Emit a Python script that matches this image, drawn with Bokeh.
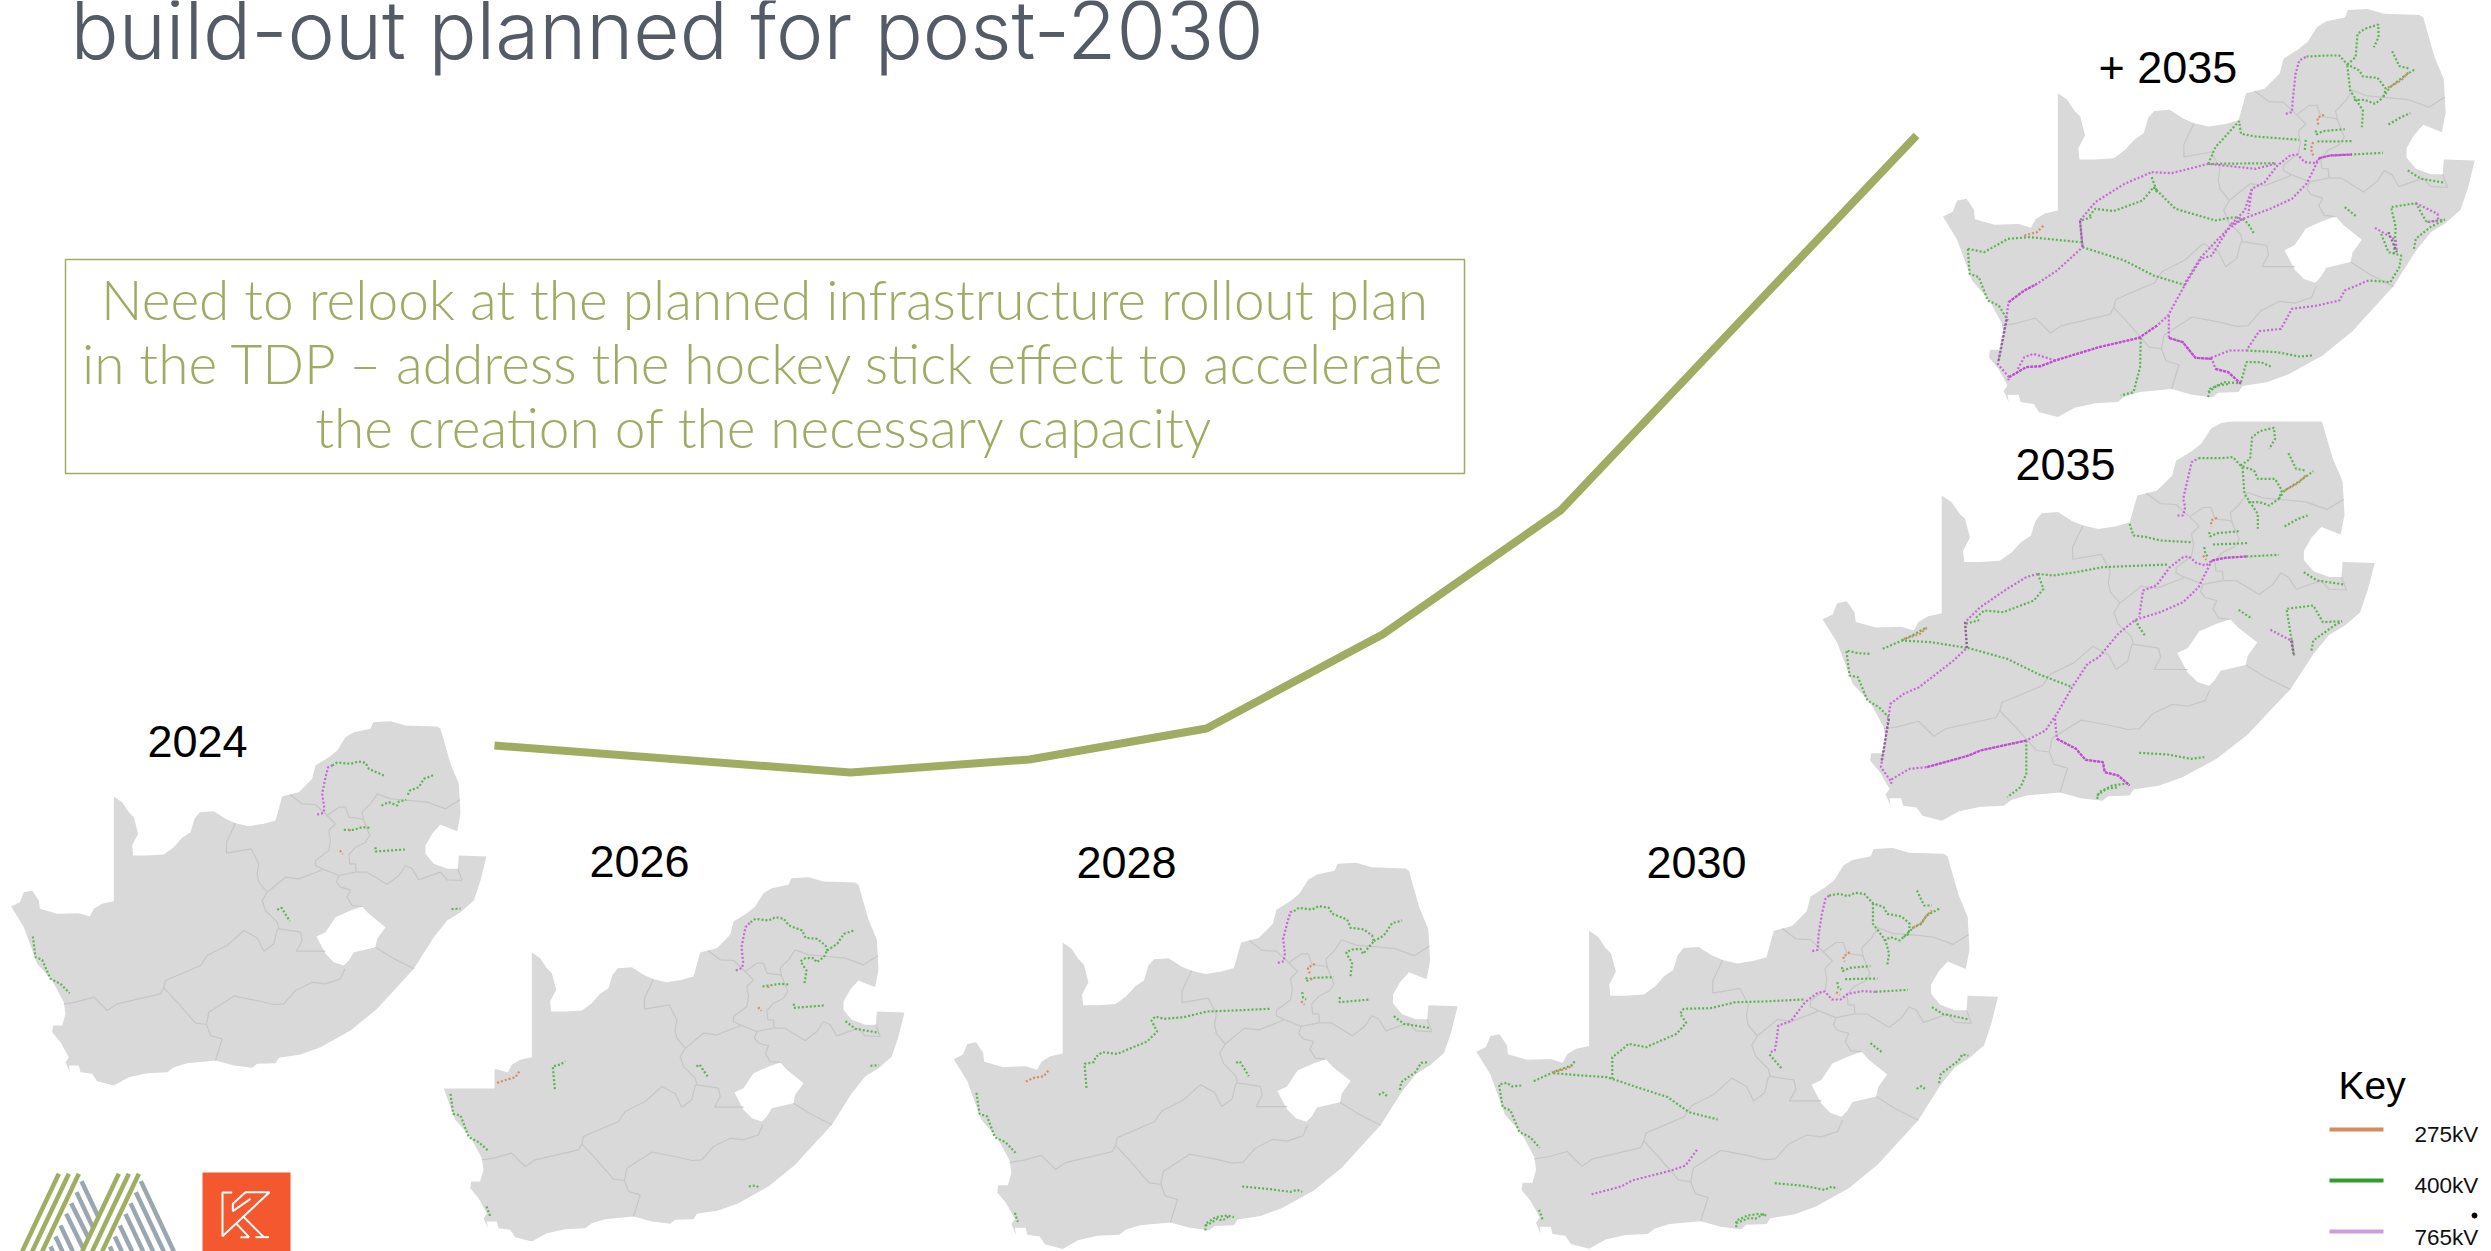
from bokeh.plotting import figure
from bokeh.models import Range1d
from bokeh.core.properties import value
from bokeh.embed import file_html
from bokeh.resources import INLINE

# South Africa outline and Lesotho enclave, in shared map units
country_outline = [(340,288),(365,305),(385,335),(400,350),(413,400),(395,435),(398,465),(440,465),(490,462),(520,440),(545,412),(570,395),(582,355),(598,335),(640,332),(675,355),(705,368),(745,377),(790,370),(825,360),(845,288),(895,275),(935,235),(945,195),(985,170),(1010,150),(1035,110),(1060,95),(1110,85),(1118,65),(1170,62),(1215,75),(1310,78),(1320,85),(1350,190),(1375,250),(1380,340),(1370,392),(1340,380),(1320,372),(1295,400),(1275,435),(1275,460),(1300,490),(1340,505),(1372,505),(1375,465),(1458,468),(1440,540),(1420,600),(1380,635),(1340,660),(1300,710),(1240,805),(1180,870),(1130,925),(1050,990),(960,1040),(900,1062),(835,1072),(825,1088),(770,1090),(755,1102),(700,1095),(645,1080),(560,1088),(520,1100),(500,1115),(440,1118),(385,1130),(340,1155),(290,1142),(275,1120),(240,1115),(235,1095),(205,1095),(208,1115),(195,1085),(205,1070),(180,1025),(155,995),(158,975),(185,975),(195,940),(190,905),(155,840),(110,790),(70,680),(32,618),(58,605),(70,575),(95,570),(115,600),(118,625),(170,640),(235,638),(268,648),(280,625),(305,610),(340,602)]
lesotho_outline = [(948,708),(975,695),(1005,650),(1050,630),(1085,618),(1105,640),(1155,680),(1130,715),(1125,740),(1060,755),(1045,780),(1030,795),(1000,785),(975,760)]

# Province and district boundaries
province_borders = [
    [(190,910),(225,905),(280,890),(320,930),(350,910),(480,880),(490,862)],
    [(490,862),(530,905),(585,968),(618,972),(630,1005),(665,1015),(645,1080)],
    [(490,862),(495,840),(600,795),(620,765),(660,745),(680,735),(730,690),(770,712),(790,752),(820,730),(830,688),(835,685),(900,695),(905,720),(888,752),(975,752)],
    [(618,972),(625,935),(700,887),(770,900),(820,912),(850,910),(885,870),(935,845),(975,850),(1020,835),(1033,805)],
    [(1125,740),(1175,772),(1240,805)],
    [(705,368),(678,425),(678,458),(752,445),(775,490),(770,520),(775,545),(800,575),(785,600),(795,630),(830,665),(835,685)],
    [(800,575),(855,530),(895,535),(960,510),(965,505),(1015,525),(1065,515)],
    [(1015,525),(1008,545),(1020,560),(1050,568),(1040,590),(1055,615),(1085,618)],
    [(868,282),(905,310),(945,312),(980,345)],
    [(980,345),(1005,370),(985,390),(990,420),(985,450),(945,480),(945,495),(965,505)],
    [(980,345),(1015,320),(1035,320),(1045,350),(1085,355),(1090,360),(1108,405),(1095,425),(1065,440),(1045,462),(1048,490),(1065,490),(1067,515)],
    [(1090,360),(1085,335),(1110,310),(1130,280),(1170,295),(1230,300),(1280,305),(1335,325),(1378,298)],
    [(1067,515),(1100,515),(1160,552),(1195,525),(1215,495),(1235,505),(1255,538),(1320,515),(1340,538),(1385,540),(1372,505)],
]

# Transmission corridors per snapshot year, by voltage, in each panel's own trace units
lines_2024 = {
    "400": [[(995,195),(1010,186),(1050,190),(1075,183),(1095,187),(1105,205),(1150,225)],
            [(1222,283),(1228,270),(1255,260),(1270,235),(1303,222)],
            [(1143,315),(1165,305),(1190,315),(1195,303),(1217,298)],
            [(1030,388),(1060,388),(1085,380),(1110,382)],
            [(1125,440),(1125,453),(1213,447)],
            [(830,628),(843,622),(868,662)],
            [(97,708),(105,770),(125,778),(150,835),(180,850),(207,878)],
            [(1353,626),(1380,624)]],
    "275": [[(1045,390),(1052,388)], [(1018,450),(1027,461)]],
    "765": [[(950,342),(968,338),(972,325),(965,280),(975,230),(983,200),(995,195)]],
}
lines_2026 = {
    "400": [[(930,215),(945,205),(985,210),(1005,200),(1030,205),(1045,225),(1085,240),(1095,262),(1130,265),(1155,285),(1160,300)],
            [(1160,300),(1190,280),(1210,250),(1240,240)],
            [(1092,398),(1098,360),(1088,345),(1080,332),(1095,323),(1120,323),(1128,335),(1150,320),(1160,300)],
            [(966,408),(985,405),(1020,400),(1047,402)],
            [(1060,460),(1060,472),(1150,465)],
            [(1215,512),(1245,535),(1315,547)],
            [(768,648),(777,642),(804,682)],
            [(1290,646),(1315,644)],
            [(30,730),(38,790),(60,795),(85,860),(115,875),(142,900)],
            [(925,1008),(945,1005),(957,1012)],
            [(138,1068),(149,1097)],
            [(343,716),(337,648),(360,642),(374,632)]],
    "275": [[(980,410),(990,406)], [(953,470),(963,481)], [(170,697),(200,687),(225,680),(236,663)]],
    "765": [[(886,360),(905,352),(908,335),(903,290),(915,230),(930,215)]],
}
lines_2028 = {
    "400": [[(1030,182),(1045,172),(1085,177),(1105,167),(1135,172),(1145,190),(1190,207),(1200,232),(1240,237),(1265,255),(1270,272)],
            [(1270,272),(1300,255),(1325,218),(1355,210)],
            [(1200,377),(1205,335),(1195,322),(1187,305),(1205,297),(1230,295),(1238,310),(1255,290),(1270,272)],
            [(1068,380),(1068,392),(1085,382),(1150,380)],
            [(1055,425),(1058,442),(1067,447)],
            [(1168,440),(1167,455),(1260,447)],
            [(1330,497),(1360,520),(1435,532)],
            [(957,475),(850,480),(770,483),(700,500),(640,505),(615,498),(603,510),(620,543),(590,573),(500,610),(455,605),(435,620),(430,635),(402,640),(408,712)],
            [(857,637),(868,633),(895,677)],
            [(1348,718),(1352,695),(1395,665),(1412,637),(1435,635)],
            [(1285,733),(1298,726),(1310,737)],
            [(78,727),(87,790),(110,798),(133,860),(165,875),(195,907)],
            [(875,1008),(950,1015),(1020,1024),(1040,1018),(1055,1024)],
            [(193,1087),(202,1114)],
            [(765,1140),(765,1120),(795,1100),(830,1095),(850,1100)],
            [(765,1125),(780,1118),(800,1105),(815,1110),(835,1098)]],
    "275": [[(1093,340),(1072,352),(1078,370)], [(1080,385),(1090,390)], [(1052,452),(1062,463)], [(226,693),(250,682),(280,677),(296,657)]],
    "765": [[(982,337),(1000,332),(1003,310),(998,265),(1012,210),(1020,185),(1030,182)]],
}
lines_2030 = {
    "400": [[(1032,195),(1060,190),(1085,197),(1105,187),(1130,190),(1155,218),(1185,230),(1195,250),(1235,258),(1258,280),(1255,310),(1240,320)],
            [(1155,218),(1155,280),(1190,330),(1200,370),(1195,403)],
            [(1185,330),(1205,320),(1230,330),(1240,320),(1265,295)],
            [(1265,293),(1290,280),(1305,255),(1345,232)],
            [(1278,180),(1298,225),(1320,225)],
            [(1068,410),(1070,422),(1090,412),(1148,407)],
            [(1077,446),(1168,444)],
            [(1055,455),(1058,472),(1066,477)],
            [(1162,484),(1253,478)],
            [(960,507),(850,513),(770,515),(700,533),(625,535),(615,550),(632,577),(605,610),(520,650),(470,640),(455,655),(425,680),(425,745)],
            [(865,672),(880,690),(900,715)],
            [(205,752),(260,725),(310,705),(322,690)],
            [(260,728),(340,735),(410,740),(500,772),(580,800),(640,845),(720,867)],
            [(170,765),(145,768),(130,757),(108,762),(118,830),(140,840),(165,905),(195,920),(222,952)],
            [(1320,530),(1350,550),(1420,566)],
            [(1148,638),(1180,665)],
            [(1340,758),(1345,730),(1395,690),(1405,672),(1422,675)],
            [(1277,775),(1290,767),(1300,775)],
            [(880,1058),(960,1066),(1020,1078),(1040,1068),(1055,1075)],
            [(220,1138),(230,1168)],
            [(772,1190),(772,1170),(805,1155),(835,1150),(858,1155)],
            [(772,1178),(790,1170),(810,1162),(825,1165),(850,1150)]],
    "275": [[(1268,290),(1290,278),(1305,255),(1320,240)], [(1090,365),(1072,378),(1075,393)], [(1052,485),(1062,493)], [(260,725),(295,715),(315,705)]],
    "765": [[(985,362),(1000,358),(1003,310),(1012,250),(1022,205),(1032,195)],
            [(1162,484),(1125,482),(1085,490),(1065,507),(1040,507),(1020,483),(1000,487),(965,515),(925,572),(890,585),(885,630),(880,660),(868,665)],
            [(662,958),(630,1005),(590,1020),(480,1050),(450,1068),(365,1092)]],
}
lines_2035 = {
    "400": [[(1040,143),(1100,143),(1130,140),(1150,165),(1185,180),(1195,205),(1240,205),(1258,240),(1250,265)],
            [(1150,165),(1175,145),(1180,80),(1200,62),(1237,52),(1240,85),(1225,115)],
            [(1155,170),(1160,250),(1195,310),(1195,355)],
            [(1170,275),(1200,275),(1225,285),(1250,265)],
            [(1250,265),(1265,240),(1300,215),(1340,182)],
            [(1275,128),(1295,175),(1320,180)],
            [(1265,348),(1300,325),(1325,315)],
            [(1068,365),(1070,378),(1090,368),(1145,362)],
            [(1078,402),(1168,398)],
            [(1055,410),(1058,430),(1065,440)],
            [(1165,438),(1250,433)],
            [(620,490),(660,495),(720,485),(790,470),(960,462)],
            [(620,490),(635,535),(610,570),(530,605),(480,600),(460,620),(465,630),(430,640)],
            [(437,712),(540,745),(620,790),(710,830)],
            [(215,715),(265,690),(340,695),(435,712)],
            [(265,690),(300,670),(330,650)],
            [(180,730),(150,728),(120,720),(128,795),(150,800),(175,870),(205,890),(230,920)],
            [(860,340),(870,375),(905,380),(940,390),(1020,395)],
            [(875,628),(885,650),(900,675)],
            [(1315,485),(1350,510),(1420,522)],
            [(1145,598),(1180,625)],
            [(1290,735),(1285,700),(1270,595),(1340,585),(1365,635),(1415,632)],
            [(1335,720),(1340,690),(1395,645),(1415,632)],
            [(590,990),(590,1090),(575,1130),(540,1160)],
            [(885,1027),(960,1032),(1020,1045),(1055,1040)],
            [(775,1165),(780,1145),(815,1125),(858,1118)],
            [(775,1155),(800,1135),(830,1130)]],
    "275": [[(1265,240),(1300,218),(1320,195)], [(1088,322),(1073,330),(1073,348)], [(1052,435),(1060,448)], [(270,685),(310,672),(330,652)]],
    "765": [[(985,315),(1000,315),(1005,290),(1000,265),(1015,190),(1022,155),(1040,143)],
            [(1165,438),(1110,442),(1075,450),(1060,465),(1035,458),(1015,438),(1000,440),(965,470),(930,525),(895,540),(885,620)],
            [(1075,450),(1040,530),(1000,575),(940,605),(875,628),(830,670),(780,740),(750,760),(710,830),(670,910),(640,960),(590,990),(470,1020),(440,1035),(330,1070),(285,1075),(240,1105),(235,1125)],
            [(235,1110),(210,1070),(218,1020),(230,920),(235,880),(270,850),(310,830),(355,790),(400,750),(435,712),(430,635),(470,590),(540,535),(590,500),(620,490)],
            [(1228,658),(1285,692),(1288,730)],
            [(665,925),(670,985),(720,1015),(745,1048),(790,1055),(795,1085),(830,1095),(860,1125)]],
    "trunk": [[(590,990),(470,1020),(440,1035),(330,1070)], [(670,985),(720,1015),(745,1048),(790,1055),(795,1085),(830,1095),(860,1125)], [(1075,450),(1110,442),(1165,438)]],
    "overlap": [[(212,1050),(232,920)], [(1282,690),(1288,730)], [(430,635),(435,712)]],
}
lines_2035_plus = {
    "400": [[(1060,168),(1120,165),(1150,165),(1172,192),(1205,210),(1215,228),(1255,232),(1278,265),(1270,292)],
            [(1172,192),(1195,170),(1200,100),(1220,85),(1257,72),(1258,110),(1245,140)],
            [(1172,195),(1180,270),(1215,330),(1212,380)],
            [(1190,298),(1220,298),(1248,310),(1270,292)],
            [(1270,290),(1290,260),(1330,225),(1360,205)],
            [(1295,152),(1315,197),(1345,205)],
            [(1285,372),(1320,350),(1345,338)],
            [(1085,390),(1087,402),(1105,392),(1165,386)],
            [(1090,423),(1185,422)],
            [(1058,418),(1055,450)],
            [(1180,462),(1270,457)],
            [(790,490),(975,488)],
            [(635,530),(650,575),(640,560),(610,600),(530,632),(480,625),(465,645),(470,650),(440,660)],
            [(640,560),(700,625),(810,660),(860,650),(885,655)],
            [(445,740),(560,780),(640,825),(730,855)],
            [(130,745),(175,755),(240,715),(300,710),(440,725)],
            [(130,745),(135,820),(160,830),(185,900),(215,915),(240,960)],
            [(790,490),(810,440),(875,362),(880,400),(920,408),(1040,418)],
            [(885,655),(900,670),(915,698)],
            [(1338,510),(1375,535),(1440,547)],
            [(1165,620),(1197,648)],
            [(1300,760),(1305,680),(1292,620),(1360,608),(1390,665),(1440,657)],
            [(1355,745),(1360,715),(1400,680),(1440,657)],
            [(1265,700),(1285,755),(1320,765),(1315,800),(1290,845),(1230,840)],
            [(605,1012),(603,1100),(585,1175),(550,1185)],
            [(895,1050),(980,1055),(1040,1068),(1075,1065)],
            [(880,1145),(895,1085),(935,1085),(965,1100)],
            [(790,1190),(795,1165),(835,1145),(875,1148)],
            [(790,1175),(815,1155),(850,1150)]],
    "275": [[(1283,262),(1320,240),(1340,215)], [(1108,343),(1090,352),(1092,375)], [(1078,425),(1072,445),(1080,470)], [(285,705),(320,695),(338,675)]],
    "765": [[(1003,340),(1020,335),(1022,300),(1030,220),(1040,180),(1060,168)],
            [(1185,462),(1125,465),(1095,473),(1085,488),(1055,485),(1035,462),(1015,465),(980,495),(945,545),(910,565),(900,640)],
            [(1095,473),(1060,550),(1020,595),(960,625),(885,655),(850,675),(800,765),(770,775),(725,855),(680,945),(650,975),(600,1012),(490,1040),(370,1080),(330,1097),(290,1100),(243,1130),(240,1145)],
            [(885,655),(840,690),(770,770),(725,850)],
            [(910,565),(890,630),(850,675)],
            [(243,1130),(212,1090),(235,960),(242,905),(285,870),(320,850),(375,810),(445,740),(438,660),(480,605),(560,550),(635,515)],
            [(635,515),(690,518),(790,490),(920,505),(980,488)],
            [(370,1080),(310,1060),(285,1070),(265,1110)],
            [(1360,608),(1420,640),(1422,660),(1390,665)],
            [(1248,682),(1305,718),(1308,755)],
            [(1230,840),(1165,870),(1150,900),(1090,915),(1020,925),(990,985),(930,992),(895,1050),(850,1050),(790,1075)],
            [(682,945),(682,1012),(720,1025),(755,1072),(800,1075),(810,1105),(845,1115),(880,1150)]],
    "trunk": [[(650,975),(600,1012),(490,1040),(370,1080),(330,1097),(290,1100),(243,1130)], [(242,905),(285,870),(320,850)], [(682,1012),(720,1025),(755,1072),(800,1075)], [(810,1105),(845,1115),(880,1150)], [(1095,473),(1125,465),(1185,462)]],
    "overlap": [[(215,1080),(238,950)], [(438,660),(445,740)], [(1285,695),(1308,755)]],
}

# Capacity rollout curve, drawn across the page
curve_x = [494, 850, 1029, 1206, 1382, 1560, 1916]
curve_y = [745, 772, 759, 728, 634, 510, 135]

title_text = "build-out planned for post-2030"
box_lines = ["Need to relook at the planned infrastructure rollout plan",
             "in the TDP – address the hockey stick effect to accelerate",
             "the creation of the necessary capacity"]
year_labels = ["2024", "2026", "2028", "2030", "2035", "+ 2035"]
voltages = ["275kV", "400kV", "765kV"]
voltage_colors = {"275": "#da8a5e", "400": "#5bb450", "765": "#c766d6", "overlap": "#7d6b85", "trunk": "#c04fd0"}
key_colors = ["#da8a5e", "#2f9e2f", "#cf9dd9"]

# Logo strokes
logo_olive = [[(175,130),(65,363)],[(205,130),(95,363)],[(235,130),(125,363)],
              [(355,130),(245,363)],[(385,130),(275,363)],[(415,130),(305,363)]]
logo_grey = [[(243,152),(294,260)],[(228,185),(278,292)],[(212,218),(266,326)],[(197,250),(250,358)],
             [(180,285),(217,363)],[(165,318),(186,363)],[(150,348),(157,363)],
             [(421,152),(520,363)],[(406,185),(490,363)],[(390,218),(458,363)],[(375,250),(428,363)],
             [(358,285),(395,363)],[(343,318),(364,363)],[(328,348),(335,363)]]
k_mark = [[(95,66),(66,66),(66,197),(207,65),(135,65),(97,100),(97,122),(150,85)],
          [(108,160),(146,200)], [(130,140),(190,200)], [(165,200),(205,200)], [(120,200),(146,200)]]

W, H = 2491, 1251
p = figure(width=W, height=H, x_range=Range1d(0, W), y_range=Range1d(H, 0),
           x_axis_type=None, y_axis_type=None, output_backend="svg", toolbar_location=None,
           min_border=0, outline_line_color=None, background_fill_color="white")
p.grid.visible = False


def to_xy(points, origin, offset=(0, 0), scale=(1, 1), xdiv=3):
    xs = [origin[0] + (offset[0] + scale[0] * u) / xdiv for u, _ in points]
    ys = [origin[1] + (offset[1] + scale[1] * v) / 3 for _, v in points]
    return xs, ys


def draw_map(origin, offset, scale, lines, xdiv=3):
    ox, oy = to_xy(country_outline, origin, offset, scale, xdiv)
    hx, hy = to_xy(lesotho_outline, origin, offset, scale, xdiv)
    p.multi_polygons(xs=[[[ox, hx]]], ys=[[[oy, hy]]], fill_color="#d9d9d9", line_color=None)
    bx, by = zip(*[to_xy(b, origin, offset, scale, xdiv) for b in province_borders])
    p.multi_line(xs=list(bx), ys=list(by), line_color="#c6c6c6", line_width=1.2)
    for voltage in ("400", "275", "765", "trunk", "overlap"):
        if voltage not in lines:
            continue
        lx, ly = zip(*[to_xy(t, origin, xdiv=xdiv) for t in lines[voltage]])
        p.multi_line(xs=list(lx), ys=list(ly), line_color=voltage_colors[voltage],
                     line_width=2.2, line_dash="3 1" if voltage == "trunk" else "2 2")


def label(xs, ys, texts, font, size, colour, align="left"):
    # Baselines are given as page rows; the vector backend sets text lower by this share of the size
    shifted = [y - 0.39 * size for y in ys]
    p.text(xs, shifted, text=texts, text_font=value(font), text_font_size=f"{size}px",
           text_color=colour, text_align=align, text_baseline="alphabetic")


draw_map((440, 850), (-66, 18), (1, 1), lines_2026)
p.quad(left=[0], right=[494], top=[600], bottom=[1088], fill_color="white", line_color=None)
draw_map((0, 700), (0, 0), (1, 1), lines_2024)
draw_map((950, 850), (-24, -29), (1.06, 1.06), lines_2028)
draw_map((1460, 830), (12, -16), (1.024, 1.10), lines_2030, xdiv=2.8)
draw_map((1800, 410), (25, -69), (1.012, 1.125), lines_2035, xdiv=2.613)
p.quad(left=[1920], right=[W], top=[0], bottom=[421], fill_color="white", line_color=None)
draw_map((1920, 0), (29, -44), (1.024, 1.12), lines_2035_plus, xdiv=2.746)

p.line(curve_x, curve_y, line_color="#9fac62", line_width=8, line_join="round")

# Heading and call-out
label([70], [60], [title_text], "Inter Light", 80, "#555b66")
p.quad(left=[65], right=[1464], top=[259], bottom=[473], fill_color=None, line_color="#9fac62", line_width=1.5)
label([764] * 3, [320, 384, 448], box_lines, "Lato Light", 55, "#9fab62", align="center")

# Year labels
label([147, 589, 1076, 1646, 2015, 2098], [759, 879, 880, 880, 482, 85], year_labels,
      "Liberation Sans", 45, "black")

# Voltage key
label([2338], [1100], ["Key"], "Liberation Sans", 39, "black")
key_rows = [1129, 1180, 1231]
p.segment(x0=[2329] * 3, x1=[2383] * 3, y0=key_rows, y1=key_rows, line_color=key_colors, line_width=4)
label([2414] * 3, [1143, 1194, 1246], voltages, "Liberation Sans", 22.5, "#111111")
p.scatter([2474], [1215], size=5, color="black")

# Logos along the bottom left
for strokes, colour in ((logo_grey, "#9aa7b0"), (logo_olive, "#9fae62")):
    sx, sy = zip(*[to_xy(s, (0, 1130)) for s in strokes])
    p.multi_line(xs=list(sx), ys=list(sy), line_color=colour, line_width=4.5)
p.quad(left=[202], right=[290], top=[1172], bottom=[1251], fill_color="#f4582e", line_color=None)
kx, ky = zip(*[to_xy(s, (200, 1170)) for s in k_mark])
p.multi_line(xs=list(kx), ys=list(ky), line_color="white", line_width=2)

open("out.html", "w").write(file_html(p, INLINE))
